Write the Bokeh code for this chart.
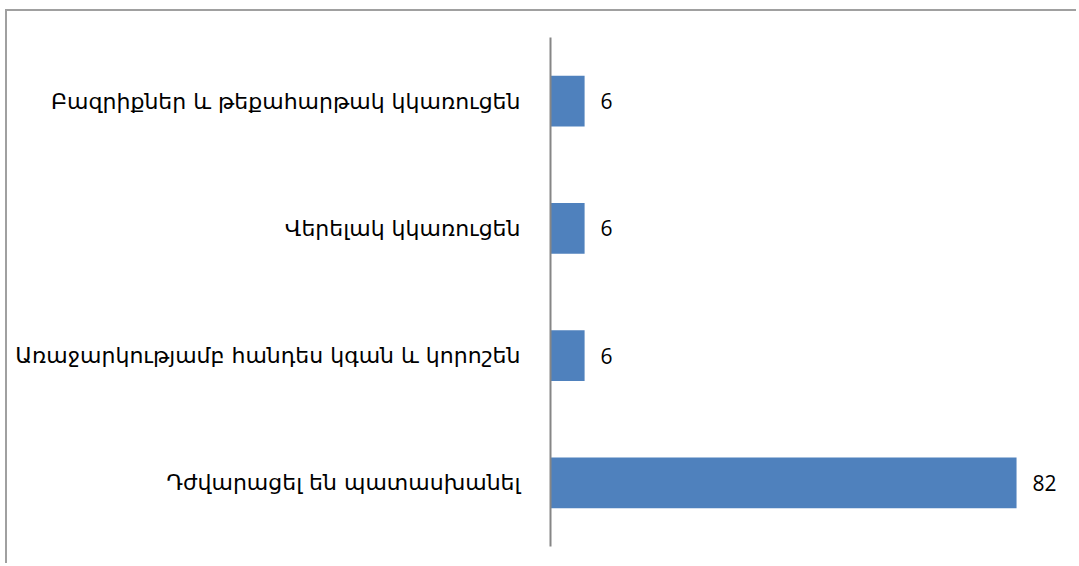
from bokeh.plotting import figure
from bokeh.models import ColumnDataSource, FactorRange
from bokeh.core.properties import value
from bokeh.embed import file_html
from bokeh.resources import INLINE

categories = [
    "Դժվարացել են պատասխանել",
    "Առաջարկությամբ հանդես կգան և կորոշեն",
    "Վերելակ կկառուցեն",
    "Բազրիքներ և թեքահարթակ կկառուցեն",
]
values = [82, 6, 6, 6]
value_labels = [str(v) for v in values]

src = ColumnDataSource(dict(cat=categories, val=values, lab=value_labels))

p = figure(
    width=1071, height=554,
    y_range=FactorRange(*categories, range_padding=0),
    x_range=(0, 92.9),
    output_backend="svg", toolbar_location=None,
    min_border_left=543, min_border_right=0,
    min_border_top=26, min_border_bottom=19,
)
p.styles = {
    "margin-left": "5px",
    "margin-top": "9px",
    "border-top": "2px solid #a0a0a0",
    "border-left": "2px solid #a0a0a0",
}
p.hbar(y="cat", left=0, right="val", height=0.4, source=src,
       fill_color="#4F81BD", line_color=None)
p.text(x="val", y="cat", text="lab", source=src, x_offset=16,
       text_align="left", text_baseline="middle",
       text_font=value("Open Sans"), text_font_size="21px", text_color="#000000")

p.xaxis.visible = False
p.xgrid.visible = False
p.ygrid.visible = False
p.outline_line_color = None

ya = p.yaxis[0]
ya.axis_line_color = "#868686"
ya.axis_line_width = 2
ya.major_tick_line_color = None
ya.minor_tick_line_color = None
ya.major_label_standoff = 24
ya.major_label_text_font = "DejaVu Sans"
ya.major_label_text_font_size = "22px"
ya.major_label_text_color = "#000000"

open("out.html", "w").write(file_html(p, INLINE))
